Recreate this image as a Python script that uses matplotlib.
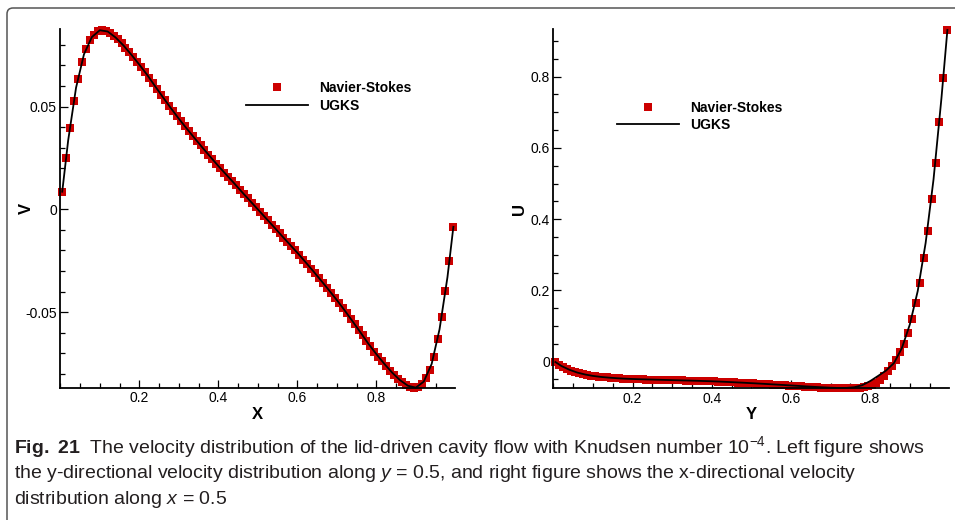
import matplotlib.pyplot as plt
from matplotlib.patches import FancyBboxPatch
from matplotlib.ticker import MultipleLocator

plt.rcParams['font.family'] = 'Liberation Sans'
plt.rcParams['axes.unicode_minus'] = False
plt.rcParams['mathtext.fontset'] = 'custom'
plt.rcParams['mathtext.rm'] = 'Liberation Sans'
plt.rcParams['mathtext.it'] = 'Liberation Sans:italic'
plt.rcParams['mathtext.bf'] = 'Liberation Sans:bold'

# cell centres of the Navier-Stokes solution (100 cells)
pos_ns = [0.005, 0.015, 0.025, 0.035, 0.045, 0.055, 0.065, 0.075, 0.085, 0.095,
          0.105, 0.115, 0.125, 0.135, 0.145, 0.155, 0.165, 0.175, 0.185, 0.195,
          0.205, 0.215, 0.225, 0.235, 0.245, 0.255, 0.265, 0.275, 0.285, 0.295,
          0.305, 0.315, 0.325, 0.335, 0.345, 0.355, 0.365, 0.375, 0.385, 0.395,
          0.405, 0.415, 0.425, 0.435, 0.445, 0.455, 0.465, 0.475, 0.485, 0.495,
          0.505, 0.515, 0.525, 0.535, 0.545, 0.555, 0.565, 0.575, 0.585, 0.595,
          0.605, 0.615, 0.625, 0.635, 0.645, 0.655, 0.665, 0.675, 0.685, 0.695,
          0.705, 0.715, 0.725, 0.735, 0.745, 0.755, 0.765, 0.775, 0.785, 0.795,
          0.805, 0.815, 0.825, 0.835, 0.845, 0.855, 0.865, 0.875, 0.885, 0.895,
          0.905, 0.915, 0.925, 0.935, 0.945, 0.955, 0.965, 0.975, 0.985, 0.995]

# sample points of the UGKS curve
pos_ugks = [0.005, 0.02, 0.04, 0.06, 0.08, 0.10, 0.12, 0.14, 0.16, 0.18,
            0.20, 0.22, 0.24, 0.26, 0.28, 0.30, 0.32, 0.34, 0.36, 0.38,
            0.40, 0.42, 0.44, 0.46, 0.48, 0.50, 0.52, 0.54, 0.56, 0.58,
            0.60, 0.62, 0.64, 0.66, 0.68, 0.70, 0.72, 0.74, 0.76, 0.78,
            0.80, 0.82, 0.84, 0.86, 0.88, 0.90, 0.92, 0.94, 0.96, 0.98, 0.995]

# V along y = 0.5
v_ns = [0.0086, 0.0252, 0.0398, 0.0527, 0.0636, 0.0719, 0.0779, 0.0822, 0.0850, 0.0866,
        0.0874, 0.0869, 0.0859, 0.0845, 0.0827, 0.0807, 0.0786, 0.0763, 0.0740, 0.0716,
        0.0692, 0.0667, 0.0641, 0.0613, 0.0585, 0.0558, 0.0531, 0.0505, 0.0479, 0.0454,
        0.0429, 0.0405, 0.0381, 0.0357, 0.0334, 0.0311, 0.0288, 0.0266, 0.0244, 0.0222,
        0.0200, 0.0179, 0.0158, 0.0137, 0.0116, 0.0095, 0.0074, 0.0053, 0.0032, 0.0011,
        -0.0011, -0.0032, -0.0053, -0.0074, -0.0095, -0.0116, -0.0137, -0.0158, -0.0179, -0.0200,
        -0.0222, -0.0244, -0.0266, -0.0288, -0.0311, -0.0334, -0.0357, -0.0381, -0.0405, -0.0429,
        -0.0454, -0.0479, -0.0505, -0.0531, -0.0558, -0.0585, -0.0613, -0.0641, -0.0667, -0.0692,
        -0.0716, -0.0740, -0.0763, -0.0784, -0.0805, -0.0823, -0.0839, -0.0852, -0.0863, -0.0868,
        -0.0865, -0.0850, -0.0822, -0.0779, -0.0716, -0.0633, -0.0524, -0.0395, -0.0250, -0.0085]

v_ugks = [0.0086, 0.0335, 0.0592, 0.0754, 0.0838, 0.0871, 0.0865, 0.0836, 0.0797, 0.0752,
          0.0704, 0.0654, 0.0599, 0.0545, 0.0492, 0.0441, 0.0393, 0.0346, 0.0300, 0.0255,
          0.0211, 0.0169, 0.0127, 0.0084, 0.0042, 0.0000, -0.0042, -0.0084, -0.0127, -0.0169,
          -0.0211, -0.0255, -0.0300, -0.0346, -0.0393, -0.0441, -0.0492, -0.0545, -0.0599, -0.0654,
          -0.0704, -0.0751, -0.0794, -0.0831, -0.0858, -0.0867, -0.0838, -0.0752, -0.0583, -0.0330, -0.0085]

# U along x = 0.5
u_ns = [-0.0020, -0.0090, -0.0150, -0.0200, -0.0250, -0.0290, -0.0320, -0.0350, -0.0370, -0.0390,
        -0.0405, -0.0420, -0.0430, -0.0440, -0.0450, -0.0458, -0.0466, -0.0473, -0.0479, -0.0484,
        -0.0489, -0.0493, -0.0497, -0.0501, -0.0504, -0.0507, -0.0510, -0.0513, -0.0516, -0.0519,
        -0.0522, -0.0525, -0.0528, -0.0531, -0.0534, -0.0537, -0.0540, -0.0543, -0.0547, -0.0551,
        -0.0555, -0.0560, -0.0565, -0.0570, -0.0575, -0.0580, -0.0586, -0.0592, -0.0598, -0.0604,
        -0.0610, -0.0616, -0.0622, -0.0629, -0.0636, -0.0643, -0.0650, -0.0657, -0.0664, -0.0671,
        -0.0678, -0.0685, -0.0692, -0.0699, -0.0706, -0.0713, -0.0719, -0.0725, -0.0730, -0.0735,
        -0.0739, -0.0743, -0.0746, -0.0748, -0.0749, -0.0748, -0.0742, -0.0731, -0.0715, -0.0688,
        -0.0645, -0.0585, -0.0505, -0.0400, -0.0265, -0.0115, 0.0055, 0.0260, 0.0510, 0.0800,
        0.1190, 0.1660, 0.2220, 0.2900, 0.3680, 0.4570, 0.5580, 0.6730, 0.7970, 0.9310]

u_ugks = [-0.0010, -0.0120, -0.0225, -0.0305, -0.0360, -0.0400, -0.0428, -0.0448, -0.0464, -0.0477,
          -0.0486, -0.0494, -0.0500, -0.0506, -0.0512, -0.0518, -0.0524, -0.0530, -0.0536, -0.0543,
          -0.0550, -0.0559, -0.0569, -0.0580, -0.0591, -0.0603, -0.0615, -0.0628, -0.0641, -0.0654,
          -0.0667, -0.0681, -0.0695, -0.0708, -0.0720, -0.0731, -0.0738, -0.0736, -0.0718, -0.0660,
          -0.0545, -0.0400, -0.0250, -0.0040, 0.0380, 0.1040, 0.1980, 0.3330, 0.5120, 0.7400, 0.9310]

x_ticks = [0.2, 0.4, 0.6, 0.8]
x_ticklabels = ['0.2', '0.4', '0.6', '0.8']
v_ticks = [-0.05, 0, 0.05]
v_ticklabels = ['-0.05', '0', '0.05']
u_ticks = [0, 0.2, 0.4, 0.6, 0.8]
u_ticklabels = ['0', '0.2', '0.4', '0.6', '0.8']

RED = '#cc0000'


def draw_panel(ax, xs, ys, xl, yl, xlabel, ylabel, yticks, yticklabels, yminor, ylim, leg_at):
    ns, = ax.plot(xs, ys, 's', color=RED, markersize=5.9, markeredgewidth=0,
                  clip_on=False, zorder=2, label='Navier-Stokes')
    ug, = ax.plot(xl, yl, '-', color='black', lw=1.3, clip_on=False, zorder=3, label='UGKS')
    ax.set_xlim(0, 0.999)
    ax.set_ylim(*ylim)
    ax.set_xticks(x_ticks, x_ticklabels)
    ax.set_yticks(yticks, yticklabels)
    ax.xaxis.set_minor_locator(MultipleLocator(0.05))
    ax.yaxis.set_minor_locator(MultipleLocator(yminor))
    ax.tick_params(which='both', direction='in', width=0.9, labelsize=10, color='black')
    ax.tick_params(which='major', length=6)
    ax.tick_params(which='minor', length=3.8)
    ax.tick_params(axis='x', pad=2.5)
    ax.tick_params(axis='y', pad=2.5)
    for side in ['top', 'right']:
        ax.spines[side].set_visible(False)
    for side in ['left', 'bottom']:
        ax.spines[side].set_linewidth(1.3)
    ax.set_xlabel(xlabel, fontsize=12, fontweight='bold')
    ax.set_ylabel(ylabel, fontsize=12, fontweight='bold')
    ax.xaxis.set_label_coords(0.5, -0.052)
    ax.yaxis.set_label_coords(-0.068, 0.5)
    ax.legend(handles=[ns, ug], loc='upper left', bbox_to_anchor=leg_at, frameon=False,
              prop={'weight': 'bold', 'size': 10}, handlelength=4.45, handletextpad=0.8,
              labelspacing=0.25, borderpad=0, borderaxespad=0, numpoints=1)


fig = plt.figure(figsize=(9.55, 5.2), dpi=100)

ax1 = fig.add_axes([0.0631, 0.2538, 0.4133, 0.6904])
draw_panel(ax1, pos_ns, v_ns, pos_ugks, v_ugks, 'X', 'V', v_ticks, v_ticklabels,
           0.01, (-0.0869, 0.0877), (0.4705, 0.855))

ax2 = fig.add_axes([0.5795, 0.2533, 0.4142, 0.6904])
draw_panel(ax2, pos_ns, u_ns, pos_ugks, u_ugks, 'Y', 'U', u_ticks, u_ticklabels,
           0.05, (-0.0747, 0.933), (0.1608, 0.801))

# rounded frame around figure and caption (cropped at right and bottom)
frame = FancyBboxPatch((0.07, -0.5), 10.0, 5.62, boxstyle='round,pad=0,rounding_size=0.06',
                       transform=fig.dpi_scale_trans, fill=False, edgecolor='#555555', lw=1.1)
fig.patches.append(frame)

caption = [
    r'$\mathbf{Fig.}$ $\mathbf{21}$  The velocity distribution of the lid-driven cavity flow with Knudsen number $10^{-4}$. Left figure shows',
    r'the y-directional velocity distribution along $y$ = 0.5, and right figure shows the x-directional velocity',
    r'distribution along $x$ = 0.5',
]
for i, line in enumerate(caption):
    fig.text(14 / 955, 1 - (453 + 25.5 * i) / 520, line, fontsize=14, color='#231f20',
             ha='left', va='baseline')

fig.savefig('out.png', dpi=100)
